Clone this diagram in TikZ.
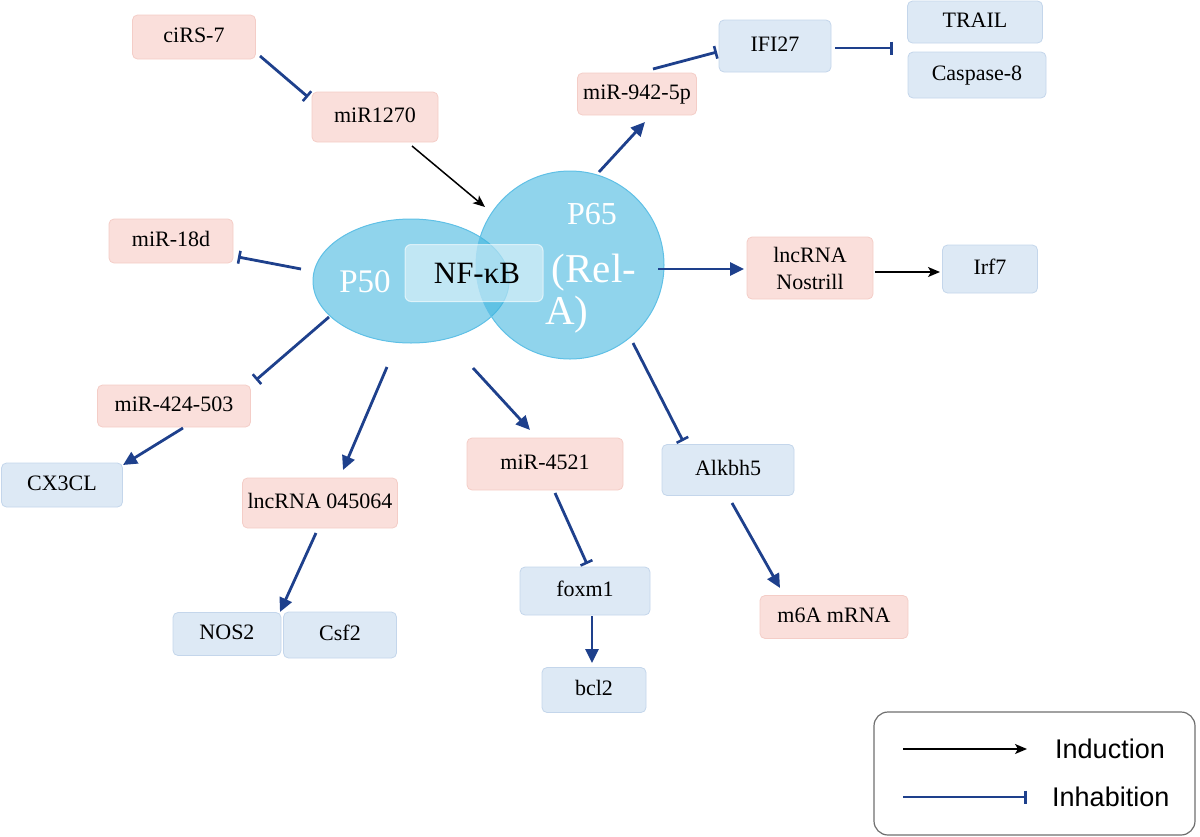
\documentclass[tikz,border=0pt]{standalone}
\usepackage{fontspec}
\setmainfont{Liberation Serif}
\newfontfamily\lsans{Liberation Sans}
\usetikzlibrary{arrows.meta,shapes.geometric}
\definecolor{pinkfill}{RGB}{250,223,219}
\definecolor{pinkline}{RGB}{244,205,199}
\definecolor{bluefill}{RGB}{221,233,245}
\definecolor{blueline}{RGB}{196,214,235}
\definecolor{navy}{RGB}{30,64,140}
\definecolor{cyanfill}{RGB}{59,180,222}
\definecolor{cyanline}{RGB}{95,192,230}
\definecolor{legline}{RGB}{110,110,110}
\newcommand\bxfont{\fontsize{22}{25}\selectfont}
\tikzset{
  basebox/.style={rectangle, rounded corners=5pt, inner sep=0pt, font=\bxfont, line width=0.8pt},
  pinkbase/.style={basebox, fill=pinkfill, draw=pinkline},
  bluebase/.style={basebox, fill=bluefill, draw=blueline},
  oneline/.style={text height=15pt, text depth=5pt},
  pinkbox/.style={pinkbase, oneline},
  bluebox/.style={bluebase, oneline},
  sz/.style 2 args={minimum width=#1pt, minimum height=#2pt},
  act/.style={draw=navy, line width=2.8pt, -{Triangle[length=14pt,width=13pt]}, fill=navy},
  inh/.style={draw=navy, line width=2.8pt, -{Bar[width=13pt,line width=2.6pt]}},
  ind/.style={draw=black, line width=1.5pt, -{Stealth[length=12pt,width=10pt,inset=3pt]}},
  bigw/.style={text=white, anchor=base, inner sep=0pt},
}
\begin{document}
\begin{tikzpicture}[x=1pt,y=-1pt]
\useasboundingbox (0,0) rectangle (1200,836);

% central complex
\node[ellipse, minimum width=196pt, minimum height=124pt, inner sep=0pt,
      fill=cyanfill, fill opacity=0.57, draw=cyanline, line width=1pt] (p50) at (411,281) {};
\node[circle, minimum size=188pt, inner sep=0pt,
      fill=cyanfill, fill opacity=0.57, draw=cyanline, line width=1pt] (p65) at (570,265) {};
\node[rectangle, rounded corners=6pt, minimum width=138pt, minimum height=57pt,
      fill=white, fill opacity=0.45, draw=white, draw opacity=0.6, line width=1pt] (nfkb) at (474,273) {};
\node[anchor=base, inner sep=0pt, font=\fontsize{31}{36}\selectfont] (nfkbt) at (477,283) {NF-κB};
\node[bigw, font=\fontsize{33}{38}\selectfont] (p50t) at (365,292) {P50};
\node[bigw, font=\fontsize{32}{38}\selectfont] (p65t) at (592,224) {P65};
\node[bigw, font=\fontsize{41}{46}\selectfont] (p65u) at (594,282) {(Rel-};
\node[bigw, font=\fontsize{41}{46}\selectfont] (p65v) at (567,324) {A)};

% boxes
\node[pinkbox, sz={123}{44}] (cirs) at (194,37) {ciRS-7};
\node[pinkbox, sz={126}{50}] (mir1270) at (375,117) {miR1270};
\node[pinkbox, sz={119}{42}] (mir942) at (637,94) {miR-942-5p};
\node[bluebox, sz={112}{52}] (ifi27) at (775,46) {IFI27};
\node[bluebox, sz={135}{42}] (trail) at (975,22) {TRAIL};
\node[bluebox, sz={138}{46}] (casp8) at (977,75) {Caspase-8};
\node[pinkbox, sz={124}{44}] (mir18d) at (171,241) {miR-18d};
\node[pinkbox, sz={153}{42}] (mir424) at (174,406) {miR-424-503};
\node[bluebox, sz={121}{44}] (cx3cl) at (62,485) {CX3CL};
\node[pinkbox, sz={155}{50}] (lnc045) at (320,503) {lncRNA 045064};
\node[bluebox, sz={108}{43}] (nos2) at (227,634) {NOS2};
\node[bluebox, sz={113}{46}] (csf2) at (340,635) {Csf2};
\node[pinkbox, sz={156}{52}] (mir4521) at (545,464) {miR-4521};
\node[bluebox, sz={130}{48}] (foxm1) at (585,591) {foxm1};
\node[bluebox, sz={104}{45}] (bcl2) at (594,690) {bcl2};
\node[bluebox, sz={132}{51}] (alkbh5) at (728,470) {Alkbh5};
\node[pinkbox, sz={148}{43}] (m6a) at (834,617) {m6A mRNA};
\node[pinkbase, sz={126}{62}, align=center, font=\fontsize{22}{27}\selectfont] (nostrill) at (810,268) {lncRNA\\Nostrill};
\node[bluebox, sz={95}{48}] (irf7) at (990,269) {Irf7};

% connectors
\draw[inh] ([shift={(66,19)}]cirs.center) -- ([shift={(-67,-20)}]mir1270.center);
\draw[ind] ([shift={(37,29)}]mir1270.center) -- ([shift={(-85,-58)}]p65.center);
\draw[act] ([shift={(29,-93)}]p65.center) -- ([shift={(8,28)}]mir942.center);
\draw[inh] ([shift={(16,-25)}]mir942.center) -- ([shift={(-58,6)}]ifi27.center);
\draw[inh] ([shift={(60,2)}]ifi27.center) -- ([shift={(-82,26)}]trail.center);
\draw[act] ([shift={(88,4)}]p65.center) -- ([shift={(-66,1)}]nostrill.center);
\draw[ind] ([shift={(65,4)}]nostrill.center) -- ([shift={(-50,3)}]irf7.center);
\draw[inh] ([shift={(-110,-12)}]p50.center) -- ([shift={(67,16)}]mir18d.center);
\draw[inh] ([shift={(-82,36)}]p50.center) -- ([shift={(82,-26)}]mir424.center);
\draw[act] ([shift={(9,22)}]mir424.center) -- ([shift={(61,-20)}]cx3cl.center);
\draw[act] ([shift={(-24,86)}]p50.center) -- ([shift={(23,-33)}]lnc045.center);
\draw[act] ([shift={(-4,30)}]lnc045.center) -- ([shift={(53,-22)}]nos2.center);
\draw[act] ([shift={(62,87)}]p50.center) -- ([shift={(-15,-34)}]mir4521.center);
\draw[inh] ([shift={(10,29)}]mir4521.center) -- ([shift={(2,-27)}]foxm1.center);
\draw[act] ([shift={(7,25)}]foxm1.center) -- ([shift={(-2,-27)}]bcl2.center);
\draw[inh] ([shift={(63,78)}]p65.center) -- ([shift={(-45,-29)}]alkbh5.center);
\draw[act] ([shift={(4,33)}]alkbh5.center) -- ([shift={(-54,-29)}]m6a.center);

% legend
\node[rectangle, rounded corners=14pt, draw=legline, line width=1.2pt,
      minimum width=321pt, minimum height=123pt] (legend) at (1034.5,773.5) {};
\coordinate (l1a) at (903,749);
\coordinate (l1b) at (1027,749);
\coordinate (l2a) at (903,797);
\coordinate (l2b) at (1027,797);
\draw[ind] (l1a) -- (l1b);
\draw[inh] (l2a) -- (l2b);
\node[anchor=west, inner sep=0pt, font=\lsans\fontsize{27}{30}\selectfont] (lind) at (1055,749) {Induction};
\node[anchor=west, inner sep=0pt, font=\lsans\fontsize{27}{30}\selectfont] (linh) at (1052,797) {Inhabition};
\end{tikzpicture}
\end{document}
